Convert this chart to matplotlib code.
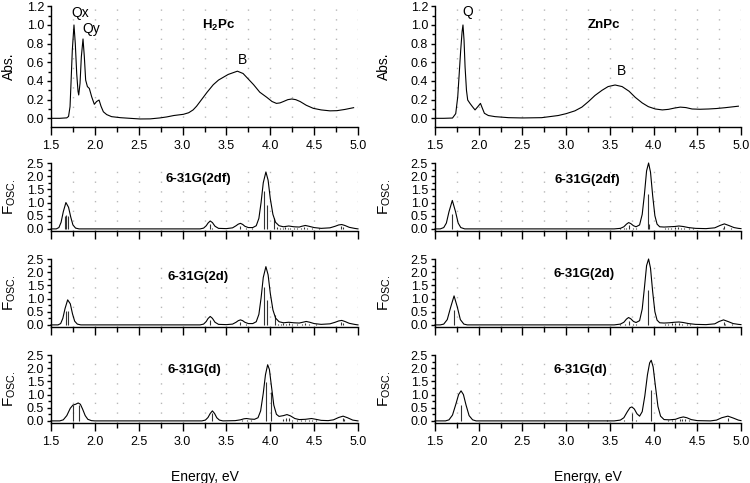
import numpy as np
import matplotlib
matplotlib.use("Agg")
import matplotlib.pyplot as plt
from matplotlib.ticker import MultipleLocator, FormatStrFormatter

plt.rcParams['font.family'] = ['Liberation Sans', 'DejaVu Sans']
plt.rcParams['mathtext.fontset'] = 'custom'
plt.rcParams['mathtext.rm'] = 'Liberation Sans'
plt.rcParams['mathtext.it'] = 'Liberation Sans:italic'
plt.rcParams['mathtext.bf'] = 'Liberation Sans:bold'

# ---------------- experimental absorption spectra ----------------
E_h2 = [1.50, 1.60, 1.68, 1.70, 1.717, 1.728, 1.743, 1.762, 1.777, 1.793, 1.808, 1.816, 1.831, 1.846,
        1.865, 1.88, 1.895, 1.915, 1.937, 1.964, 1.994, 2.02, 2.048, 2.07, 2.097, 2.135, 2.19, 2.29,
        2.40, 2.515, 2.63, 2.74, 2.82, 2.90, 3.01, 3.07, 3.12, 3.16, 3.20, 3.28, 3.35, 3.41, 3.465,
        3.52, 3.58, 3.625, 3.69, 3.75, 3.81, 3.88, 3.96, 4.02, 4.07, 4.11, 4.15, 4.20, 4.245, 4.29,
        4.34, 4.41, 4.49, 4.58, 4.68, 4.76, 4.85, 4.95]
A_h2 = [0.0, 0.0, 0.005, 0.02, 0.125, 0.375, 0.73, 1.0, 0.8, 0.48, 0.29, 0.25, 0.375, 0.66,
        0.85, 0.66, 0.41, 0.34, 0.32, 0.23, 0.15, 0.18, 0.196, 0.13, 0.07, 0.04, 0.018, 0.007,
        0.0, -0.007, -0.006, 0.004, 0.015, 0.03, 0.043, 0.06, 0.09, 0.13, 0.18, 0.28, 0.36, 0.41, 0.44,
        0.47, 0.49, 0.505, 0.48, 0.42, 0.36, 0.28, 0.225, 0.18, 0.16, 0.165, 0.18, 0.2, 0.207, 0.2,
        0.18, 0.14, 0.107, 0.09, 0.08, 0.082, 0.095, 0.114]

E_zn = [1.50, 1.60, 1.70, 1.737, 1.76, 1.775, 1.794, 1.81, 1.82, 1.832, 1.844, 1.86, 1.874, 1.90,
        1.928, 1.958, 1.99, 2.02, 2.042, 2.065, 2.11, 2.187, 2.34, 2.50, 2.72, 2.91, 3.00, 3.10,
        3.18, 3.256, 3.33, 3.41, 3.48, 3.56, 3.64, 3.72, 3.79, 3.87, 3.94, 4.02, 4.10, 4.17, 4.24,
        4.305, 4.37, 4.44, 4.53, 4.63, 4.72, 4.82, 4.97]
A_zn = [0.0, 0.0, 0.003, 0.05, 0.23, 0.45, 0.73, 0.93, 1.0, 0.84, 0.55, 0.30, 0.196, 0.16,
        0.125, 0.09, 0.125, 0.16, 0.107, 0.054, 0.03, 0.018, 0.007, 0.004, 0.007, 0.03, 0.05, 0.08,
        0.12, 0.18, 0.245, 0.30, 0.34, 0.357, 0.34, 0.29, 0.225, 0.165, 0.125, 0.10, 0.09, 0.096, 0.11,
        0.12, 0.115, 0.10, 0.097, 0.10, 0.105, 0.114, 0.13]

# ---------------- calculated spectra: envelopes ----------------
envE_h2_2df = [1.50, 1.56, 1.59, 1.615, 1.64, 1.67, 1.70, 1.725, 1.75, 1.78, 1.82, 3.20, 3.24, 3.27,
               3.29, 3.315, 3.34, 3.37, 3.41, 3.50, 3.57, 3.61, 3.635, 3.66, 3.685, 3.71, 3.75, 3.80,
               3.84, 3.87, 3.895, 3.92, 3.95, 3.975, 4.00, 4.03, 4.06, 4.10, 4.15, 4.21, 4.27, 4.33,
               4.36, 4.40, 4.44, 4.50, 4.58, 4.68, 4.74, 4.78, 4.815, 4.85, 4.90, 4.96, 5.00]
envF_h2_2df = [0.0, 0.0, 0.05, 0.25, 0.65, 1.0, 0.82, 0.45, 0.15, 0.03, 0.0, 0.0, 0.03, 0.12,
               0.22, 0.30, 0.24, 0.10, 0.02, 0.01, 0.04, 0.12, 0.18, 0.21, 0.17, 0.10, 0.05, 0.05,
               0.12, 0.40, 1.0, 1.75, 2.16, 1.85, 1.15, 0.55, 0.25, 0.12, 0.08, 0.11, 0.08, 0.07,
               0.10, 0.13, 0.10, 0.05, 0.02, 0.04, 0.10, 0.15, 0.165, 0.13, 0.06, 0.02, 0.0]

envE_h2_2d = [1.50, 1.58, 1.61, 1.635, 1.66, 1.69, 1.72, 1.745, 1.77, 1.80, 1.84, 3.20, 3.24, 3.27,
              3.29, 3.315, 3.34, 3.37, 3.41, 3.50, 3.57, 3.61, 3.635, 3.66, 3.685, 3.71, 3.75, 3.80,
              3.84, 3.87, 3.895, 3.92, 3.95, 3.975, 4.00, 4.03, 4.06, 4.10, 4.15, 4.21, 4.27, 4.33,
              4.37, 4.41, 4.45, 4.50, 4.58, 4.68, 4.74, 4.78, 4.815, 4.85, 4.90, 4.96, 5.00]
envF_h2_2d = [0.0, 0.0, 0.05, 0.25, 0.62, 0.95, 0.8, 0.42, 0.14, 0.03, 0.0, 0.0, 0.03, 0.13,
              0.24, 0.32, 0.25, 0.10, 0.02, 0.01, 0.03, 0.10, 0.16, 0.19, 0.16, 0.10, 0.05, 0.05,
              0.12, 0.40, 1.02, 1.8, 2.21, 1.9, 1.2, 0.57, 0.26, 0.12, 0.08, 0.10, 0.08, 0.07,
              0.10, 0.13, 0.10, 0.05, 0.02, 0.04, 0.10, 0.15, 0.17, 0.13, 0.06, 0.02, 0.0]

envE_h2_d = [1.50, 1.60, 1.64, 1.68, 1.72, 1.75, 1.78, 1.81, 1.835, 1.86, 1.89, 1.92, 1.96, 2.00,
             3.22, 3.26, 3.29, 3.315, 3.34, 3.365, 3.39, 3.42, 3.46, 3.60, 3.66, 3.70, 3.73, 3.77,
             3.82, 3.86, 3.89, 3.92, 3.945, 3.97, 3.99, 4.01, 4.04, 4.07, 4.10, 4.15, 4.19, 4.23,
             4.28, 4.33, 4.40, 4.47, 4.52, 4.58, 4.66, 4.72, 4.78, 4.83, 4.88, 4.94, 5.00]
envF_h2_d = [0.0, 0.0, 0.04, 0.2, 0.48, 0.6, 0.63, 0.68, 0.63, 0.45, 0.2, 0.06, 0.01, 0.0,
             0.0, 0.03, 0.13, 0.28, 0.38, 0.28, 0.12, 0.03, 0.0, 0.01, 0.04, 0.08, 0.09, 0.07,
             0.06, 0.12, 0.38, 1.05, 1.75, 2.13, 1.95, 1.4, 0.6, 0.25, 0.17, 0.2, 0.24, 0.19,
             0.09, 0.05, 0.06, 0.09, 0.06, 0.02, 0.01, 0.04, 0.13, 0.18, 0.12, 0.03, 0.0]

envE_zn_2df = [1.50, 1.56, 1.60, 1.63, 1.66, 1.698, 1.735, 1.765, 1.795, 1.84, 3.55, 3.62, 3.66, 3.69,
               3.715, 3.74, 3.77, 3.80, 3.84, 3.87, 3.895, 3.92, 3.943, 3.965, 3.99, 4.015, 4.04, 4.07,
               4.12, 4.18, 4.24, 4.29, 4.34, 4.40, 4.48, 4.60, 4.70, 4.76, 4.81, 4.86, 4.92, 4.97, 5.00]
envF_zn_2df = [0.0, 0.0, 0.05, 0.22, 0.65, 1.08, 0.65, 0.22, 0.05, 0.0, 0.0, 0.02, 0.08, 0.18,
               0.24, 0.2, 0.12, 0.08, 0.15, 0.55, 1.3, 2.2, 2.5, 2.15, 1.25, 0.5, 0.18, 0.08,
               0.07, 0.08, 0.09, 0.11, 0.09, 0.05, 0.02, 0.01, 0.04, 0.13, 0.19, 0.13, 0.05, 0.02, 0.01]

envE_zn_2d = [1.50, 1.56, 1.60, 1.64, 1.68, 1.718, 1.755, 1.79, 1.83, 1.87, 3.55, 3.62, 3.66, 3.69,
              3.714, 3.74, 3.77, 3.80, 3.84, 3.87, 3.895, 3.92, 3.943, 3.965, 3.99, 4.015, 4.04, 4.07,
              4.12, 4.18, 4.24, 4.29, 4.34, 4.40, 4.48, 4.60, 4.70, 4.75, 4.80, 4.85, 4.91, 4.97, 5.00]
envF_zn_2d = [0.0, 0.0, 0.03, 0.2, 0.68, 1.1, 0.68, 0.2, 0.03, 0.0, 0.0, 0.03, 0.1, 0.22,
              0.28, 0.23, 0.13, 0.09, 0.16, 0.6, 1.4, 2.25, 2.5, 2.15, 1.25, 0.5, 0.18, 0.08,
              0.07, 0.08, 0.1, 0.11, 0.09, 0.05, 0.02, 0.01, 0.04, 0.13, 0.19, 0.13, 0.05, 0.02, 0.01]

envE_zn_d = [1.50, 1.62, 1.66, 1.70, 1.74, 1.77, 1.798, 1.825, 1.855, 1.89, 1.93, 1.97, 3.55, 3.62,
             3.66, 3.70, 3.73, 3.752, 3.78, 3.81, 3.84, 3.87, 3.90, 3.93, 3.955, 3.973, 3.995, 4.02,
             4.05, 4.08, 4.12, 4.18, 4.25, 4.30, 4.34, 4.38, 4.43, 4.50, 4.65, 4.72, 4.78, 4.85,
             4.91, 4.97, 5.00]
envF_zn_d = [0.0, 0.0, 0.04, 0.22, 0.65, 1.0, 1.14, 1.0, 0.6, 0.2, 0.04, 0.0, 0.0, 0.03,
             0.12, 0.35, 0.5, 0.53, 0.45, 0.27, 0.18, 0.35, 0.95, 1.75, 2.2, 2.3, 2.05, 1.35,
             0.55, 0.18, 0.05, 0.04, 0.06, 0.12, 0.15, 0.12, 0.05, 0.01, 0.0, 0.03, 0.12, 0.18,
             0.11, 0.03, 0.01]

# ---------------- calculated spectra: oscillator strengths (sticks) ----------------
stE_h2_2df = [1.655, 1.672, 1.69, 3.31, 3.33, 3.655, 3.72, 3.79, 3.933, 3.968, 4.044, 4.08, 4.11,
              4.14, 4.17, 4.2, 4.23, 4.27, 4.31, 4.35, 4.39, 4.42, 4.47, 4.55, 4.81, 4.83]
stF_h2_2df = [0.5, 0.52, 0.5, 0.2, 0.05, 0.12, 0.04, 0.03, 1.45, 0.92, 0.42, 0.06, 0.04,
              0.05, 0.07, 0.05, 0.04, 0.03, 0.03, 0.05, 0.08, 0.04, 0.03, 0.02, 0.1, 0.08]
stE_h2_2d = [1.675, 1.698, 3.31, 3.655, 3.72, 3.933, 3.968, 4.05, 4.09, 4.12, 4.15, 4.18, 4.21,
             4.25, 4.3, 4.36, 4.4, 4.44, 4.52, 4.81, 4.83]
stF_h2_2d = [0.52, 0.52, 0.2, 0.11, 0.04, 1.42, 0.95, 0.38, 0.05, 0.04, 0.06, 0.05, 0.07,
             0.04, 0.03, 0.05, 0.08, 0.04, 0.02, 0.1, 0.08]
stE_h2_d = [1.747, 1.823, 3.34, 3.68, 3.73, 3.78, 3.952, 4.006, 4.15, 4.18, 4.21, 4.25, 4.3,
            4.35, 4.4, 4.44, 4.48, 4.52, 4.83, 4.845]
stF_h2_d = [0.6, 0.6, 0.3, 0.03, 0.05, 0.03, 1.48, 1.1, 0.08, 0.1, 0.12, 0.05, 0.04,
            0.03, 0.04, 0.05, 0.04, 0.03, 0.1, 0.08]
stE_zn_2df = [1.698, 3.62, 3.66, 3.69, 3.714, 3.76, 3.80, 3.935, 3.95, 4.13, 4.16, 4.2, 4.24,
              4.28, 4.31, 4.35, 4.4, 4.45, 4.79, 4.81, 4.88]
stF_zn_2df = [0.57, 0.02, 0.03, 0.04, 0.15, 0.03, 0.03, 1.33, 0.2, 0.04, 0.03, 0.05, 0.06,
              0.07, 0.05, 0.04, 0.03, 0.02, 0.05, 0.12, 0.03]
stE_zn_2d = [1.718, 3.62, 3.67, 3.714, 3.76, 3.80, 3.935, 4.13, 4.17, 4.21, 4.25, 4.29, 4.33,
             4.38, 4.42, 4.80, 4.82, 4.9]
stF_zn_2d = [0.57, 0.02, 0.03, 0.15, 0.03, 0.03, 1.33, 0.04, 0.05, 0.06, 0.07, 0.06, 0.05,
             0.03, 0.02, 0.1, 0.05, 0.02]
stE_zn_d = [1.798, 3.47, 3.66, 3.752, 3.80, 3.973, 4.17, 4.21, 4.25, 4.3, 4.33, 4.36, 4.4, 4.85]
stF_zn_d = [0.6, 0.02, 0.03, 0.3, 0.03, 1.19, 0.03, 0.04, 0.05, 0.06, 0.08, 0.07, 0.04, 0.1]

basis_labels = ['6-31G(2df)', '6-31G(2d)', '6-31G(d)']
molecule_labels = [r'H$_\mathbf{2}$Pc', 'ZnPc']

# ---------------- figure ----------------
fig = plt.figure(figsize=(7.5, 4.83), dpi=100)

col_x = [51 / 750, 435 / 750]
col_w = [307 / 750, 306 / 750]
top_b, top_h = 1 - 127 / 483, (127 - 6.3) / 483
f_h = 68 / 483
f_b = [1 - 231 / 483, 1 - 327 / 483, 1 - 423 / 483]

grid_kw = dict(color='#b8b8b8', linestyle=(0, (1, 6)), linewidth=1.0)


def style(ax, ymaj, ymin, show_xlabels):
    ax.set_xlim(1.5, 5.0)
    ax.xaxis.set_major_locator(MultipleLocator(0.5))
    ax.xaxis.set_minor_locator(MultipleLocator(0.25))
    ax.xaxis.set_major_formatter(FormatStrFormatter('%.1f'))
    ax.yaxis.set_major_locator(MultipleLocator(ymaj))
    ax.yaxis.set_minor_locator(MultipleLocator(ymin))
    ax.yaxis.set_major_formatter(FormatStrFormatter('%.1f'))
    for s in ['top', 'right']:
        ax.spines[s].set_visible(False)
    for s in ['left', 'bottom']:
        ax.spines[s].set_linewidth(1.0)
    ax.tick_params(axis='x', which='major', direction='out', length=6, width=1.0,
                   labelsize=9, pad=3.5, labelbottom=show_xlabels)
    ax.tick_params(axis='x', which='minor', direction='out', length=3.5, width=1.0)
    ax.tick_params(axis='y', which='major', direction='out', length=3, width=1.0,
                   labelsize=9, pad=2)
    ax.tick_params(axis='y', which='minor', direction='out', length=2.5, width=1.0)
    ax.grid(True, axis='x', which='both', **grid_kw)
    ax.set_axisbelow(True)


def place_ylabel(ax, text, size, xc_px, col):
    ax.set_ylabel(text, fontsize=size)
    ax.yaxis.label.set_verticalalignment('center')
    ax.yaxis.set_label_coords((xc_px - col_x[col] * 750) / (col_w[col] * 750), 0.5)


# top panels
tops = [(E_h2, A_h2), (E_zn, A_zn)]
top_ann = [
    [('Qx', 1.831, 1.125), ('Qy', 1.955, 0.955), ('B', 3.686, 0.625)],
    [('Q', 1.88, 1.14), ('B', 3.637, 0.507)],
]
mol_pos = [(3.41, 1.0), (3.43, 1.0)]
ylab_px = [9, 384]

for c in range(2):
    ax = fig.add_axes([col_x[c], top_b, col_w[c], top_h])
    style(ax, 0.2, 0.1, True)
    ax.set_ylim(-0.093, 1.2)
    ax.plot(tops[c][0], tops[c][1], color='black', lw=0.8)
    for t, x, y in top_ann[c]:
        ax.text(x, y, t, ha='center', va='center', fontsize=10)
    ax.text(mol_pos[c][0], mol_pos[c][1], molecule_labels[c], ha='center', va='center',
            fontsize=9.5, fontweight='bold')
    place_ylabel(ax, 'Abs.', 10, ylab_px[c], c)

envs = [
    [(envE_h2_2df, envF_h2_2df), (envE_h2_2d, envF_h2_2d), (envE_h2_d, envF_h2_d)],
    [(envE_zn_2df, envF_zn_2df), (envE_zn_2d, envF_zn_2d), (envE_zn_d, envF_zn_d)],
]
sticks = [
    [(stE_h2_2df, stF_h2_2df), (stE_h2_2d, stF_h2_2d), (stE_h2_d, stF_h2_d)],
    [(stE_zn_2df, stF_zn_2df), (stE_zn_2d, stF_zn_2d), (stE_zn_d, stF_zn_d)],
]
title_pos = [
    [(3.18, 1.9), (3.18, 1.83), (3.135, 1.92)],
    [(3.237, 1.87), (3.2, 1.93), (3.16, 1.92)],
]

for c in range(2):
    for r in range(3):
        ax = fig.add_axes([col_x[c], f_b[r], col_w[c], f_h])
        style(ax, 0.5, 0.25, r == 2)
        ax.set_ylim(-0.08, 2.5)
        sE, sF = sticks[c][r]
        ax.vlines(sE, 0, sF, color='#333333', lw=0.8)
        eE, eF = envs[c][r]
        ax.plot(eE, eF, color='black', lw=0.8, clip_on=False)
        ax.text(title_pos[c][r][0], title_pos[c][r][1], basis_labels[r], ha='center',
                va='center', fontsize=9.5, fontweight='bold')
        place_ylabel(ax, r'F$_{\mathrm{OSC.}}$', 11, ylab_px[c] + 1, c)
        if r == 2:
            ax.set_xlabel('Energy, eV', fontsize=10, labelpad=16)

fig.savefig('out.png', dpi=100)
